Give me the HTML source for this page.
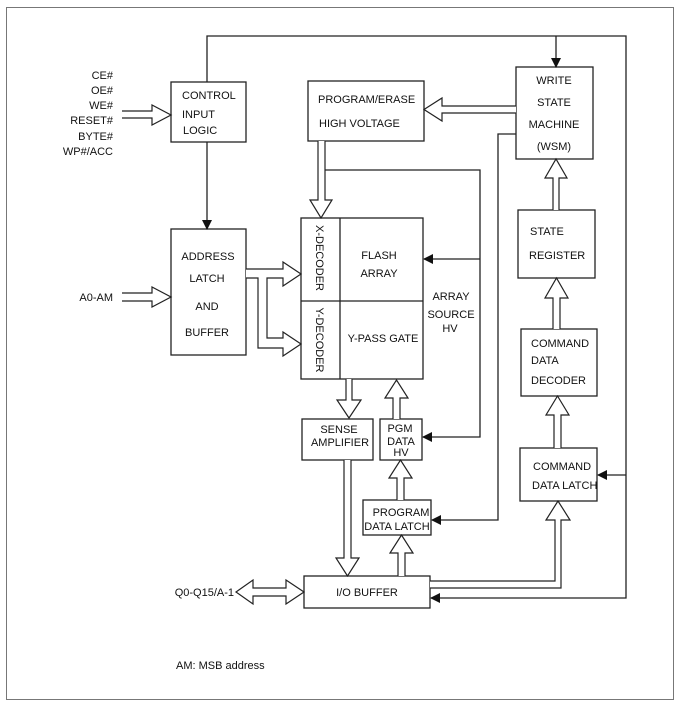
<!DOCTYPE html>
<html><head><style>
html,body{margin:0;padding:0;background:#fff;}
svg{display:block;}
text{font-family:"Liberation Sans",Arial,sans-serif;font-size:11px;fill:#111;}
</style></head><body>
<svg width="680" height="708" viewBox="0 0 680 708">
<defs>
<marker id="a" markerWidth="10" markerHeight="10" refX="9" refY="5" orient="auto" markerUnits="userSpaceOnUse">
<path d="M0,0 L10,5 L0,10 Z" fill="#111"/>
</marker>
</defs>
<rect x="6.5" y="7.5" width="667" height="692" fill="none" stroke="#777" stroke-width="1"/>
<g fill="none" stroke="#222" stroke-width="1.3">
<!-- boxes -->
<rect x="171" y="82" width="75" height="60"/>
<rect x="171" y="229" width="75" height="126"/>
<rect x="301" y="218" width="122" height="161"/>
<line x1="340" y1="218" x2="340" y2="379"/>
<line x1="301" y1="301" x2="423" y2="301"/>
<rect x="308" y="81" width="116" height="60"/>
<rect x="516" y="67" width="77" height="92"/>
<rect x="518" y="210" width="77" height="68"/>
<rect x="521" y="329" width="76" height="67"/>
<rect x="520" y="448" width="77" height="53"/>
<rect x="304" y="576" width="126" height="32"/>
<rect x="302" y="419" width="71" height="41"/>
<rect x="380" y="419" width="42" height="41"/>
<rect x="363" y="500" width="68" height="35"/>
<!-- thin connectors -->
<line x1="207" y1="142" x2="207" y2="229" marker-end="url(#a)"/>
<polyline points="207,82 207,36 626,36 626,598 431,598" marker-end="url(#a)"/>
<line x1="556" y1="36" x2="556" y2="67" marker-end="url(#a)"/>
<line x1="626" y1="475" x2="598" y2="475" marker-end="url(#a)"/>
<polyline points="324,170 480,170 480,437 423,437" marker-end="url(#a)"/>
<line x1="480" y1="259" x2="424" y2="259" marker-end="url(#a)"/>
<polyline points="516,134 498,134 498,520 432,520" marker-end="url(#a)"/>
</g>
<g fill="#fff" stroke="#222" stroke-width="1.2">
<polyline points="122,111 152,111 152,105 171,115 152,125 152,118 122,118"/>
<polyline points="122,293 152,293 152,287 171,297 152,307 152,301 122,301"/>
<polyline points="246,269 283,269 283,262 301,274 283,286 283,278 267,278 267,338 283,338 283,332 301,344 283,356 283,348 258,348 258,278 246,278"/>
<polyline points="318,141 318,200 310,200 321,218 332,200 325,200 325,141"/>
<polyline points="516,106 442,106 442,98 424,109.5 442,121 442,113 516,113"/>
<polyline points="553,210 553,178 545,178 556,159 567,178 559,178 559,210"/>
<polyline points="553,329 553,298 545,298 556.5,278 568,298 560,298 560,329"/>
<polyline points="554,448 554,415 546,415 557.5,396 569,415 561,415 561,448"/>
<polyline points="430,581 555,581 555,520 546,520 558,501 570,520 561,520 561,588 430,588"/>
<polyline points="346,379 346,400 337,400 349,418 361,400 352,400 352,379"/>
<polyline points="344,460 344,558 336,558 347.5,576 359,558 351,558 351,460"/>
<polyline points="393,419 393,398 385,398 396.5,380 408,398 400,398 400,419"/>
<polyline points="397,500 397,478 389,478 400.5,460 412,478 404,478 404,500"/>
<polyline points="398,576 398,553 390,553 401.5,535 413,553 405,553 405,576"/>
<polygon points="236,592 253,580 253,588 286,588 286,580 304,592 286,604 286,596 253,596 253,604"/>
</g>
<!-- labels -->
<g text-anchor="end">
<text x="113" y="79">CE#</text>
<text x="113" y="94">OE#</text>
<text x="113" y="109">WE#</text>
<text x="113" y="124">RESET#</text>
<text x="113" y="140">BYTE#</text>
<text x="113" y="155">WP#/ACC</text>
<text x="113" y="301">A0-AM</text>
<text x="234" y="596">Q0-Q15/A-1</text>
</g>
<text x="182" y="99">CONTROL</text>
<text x="182" y="118">INPUT</text>
<text x="183" y="134">LOGIC</text>
<g text-anchor="middle">
<text x="208" y="260">ADDRESS</text>
<text x="207" y="282">LATCH</text>
<text x="207" y="310">AND</text>
<text x="207" y="336">BUFFER</text>
<text x="379" y="259">FLASH</text>
<text x="379" y="277">ARRAY</text>
<text x="383" y="342">Y-PASS GATE</text>
<text x="554" y="84">WRITE</text>
<text x="554" y="106">STATE</text>
<text x="554" y="128">MACHINE</text>
<text x="554" y="150">(WSM)</text>
<text x="451" y="300">ARRAY</text>
<text x="451" y="318">SOURCE</text>
<text x="450" y="332">HV</text>
<text x="339" y="433">SENSE</text>
<text x="340" y="446">AMPLIFIER</text>
<text x="400" y="432">PGM</text>
<text x="401" y="445">DATA</text>
<text x="401" y="456">HV</text>
<text x="401" y="516">PROGRAM</text>
<text x="397" y="530">DATA LATCH</text>
<text x="367" y="596">I/O BUFFER</text>
</g>
<text x="318" y="103">PROGRAM/ERASE</text>
<text x="319" y="127">HIGH VOLTAGE</text>
<text x="530" y="235">STATE</text>
<text x="529" y="259">REGISTER</text>
<text x="531" y="347">COMMAND</text>
<text x="531" y="364">DATA</text>
<text x="531" y="384">DECODER</text>
<text x="533" y="470">COMMAND</text>
<text x="532" y="489">DATA LATCH</text>
<text x="176" y="669">AM: MSB address</text>
<text transform="translate(316,258) rotate(90)" text-anchor="middle">X-DECODER</text>
<text transform="translate(316,340) rotate(90)" text-anchor="middle">Y-DECODER</text>
</svg>
</body></html>
